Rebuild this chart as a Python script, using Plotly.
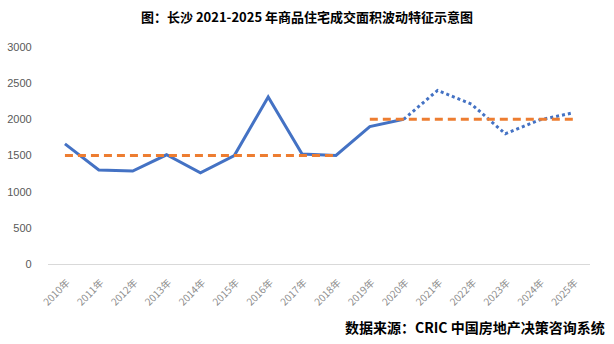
import plotly.graph_objects as go

years = [f"{y}年" for y in range(2010, 2026)]
# Annual transaction area (actual through 2020, projected 2020-2025)
actual = [1660, 1300, 1285, 1510, 1260, 1500, 2310, 1520, 1500, 1900, 2000]
projected = [2000, 2400, 2210, 1800, 1990, 2090]
# Period average levels
avg_early = [1500] * 9
avg_late = [2000] * 7

BLUE = "#4472C4"
ORANGE = "#ED7D31"
CJK = "Noto Sans CJK SC"

fig = go.Figure()
fig.add_trace(go.Scatter(x=years[:11], y=actual, mode="lines",
                         line=dict(color=BLUE, width=3), showlegend=False))
fig.add_trace(go.Scatter(x=years[10:], y=projected, mode="lines",
                         line=dict(color=BLUE, width=3, dash="dot"), showlegend=False))
fig.add_trace(go.Scatter(x=years[:9], y=avg_early, mode="lines",
                         line=dict(color=ORANGE, width=3, dash="8px,5px"), showlegend=False))
fig.add_trace(go.Scatter(x=years[9:], y=avg_late, mode="lines",
                         line=dict(color=ORANGE, width=3, dash="8px,5px"), showlegend=False))

fig.update_layout(
    width=614, height=344,
    margin=dict(l=48, r=24, t=47, b=80, autoexpand=False),
    paper_bgcolor="white", plot_bgcolor="white",
    title=dict(text="<b>图：长沙 2021-2025 年商品住宅成交面积波动特征示意图</b>",
               x=0.5, xanchor="center", y=0.95, yanchor="middle",
               font=dict(family=CJK, size=13, color="black")),
    xaxis=dict(type="category", range=[-0.5, len(years) - 0.5], tickangle=-45,
               showgrid=False, showline=True, linecolor="#D9D9D9", linewidth=1,
               ticks="outside", ticklen=8, tickcolor="rgba(0,0,0,0)",
               ticklabelshift=2,
               tickfont=dict(family=CJK, size=10, color="#8C8C8C")),
    yaxis=dict(range=[0, 3000], dtick=500, showgrid=False, zeroline=False,
               showline=False, ticks="outside", ticklen=7,
               tickcolor="rgba(0,0,0,0)", ticksuffix="\u00a0\u00a0",
               tickfont=dict(family="Liberation Sans, Arial", size=11, color="#595959")),
    annotations=[dict(text="<b>数据来源：CRIC 中国房地产决策咨询系统</b>",
                      xref="paper", yref="paper", x=1.031, y=-0.29,
                      xanchor="right", yanchor="middle", showarrow=False,
                      font=dict(family=CJK, size=14, color="black"))],
)

fig.write_html("out.html")
